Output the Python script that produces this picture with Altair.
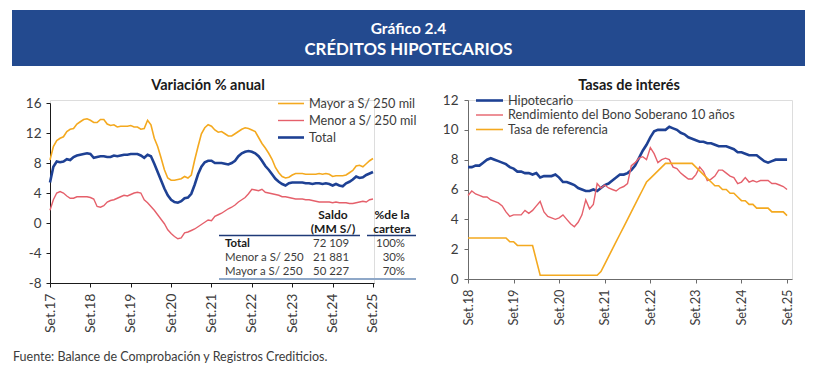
import json
import altair as alt
import pandas as pd

FONT = "Lato"
BLUE = "#1e4194"
ORANGE = "#f4a91f"
RED = "#e5606b"
BANNER = "#234a8f"
TEXT = "#3c3c3c"
DARK = "#1a1a1a"

# ---------------- texts ----------------
header_lines = ["Gráfico 2.4", "CRÉDITOS HIPOTECARIOS"]
left_title = "Variación % anual"
right_title = "Tasas de interés"
source_note = "Fuente: Balance de Comprobación y Registros Crediticios."

# ---------------- left panel: Variación % anual (monthly, Set.17 - Set.25) ----------------
left_x_labels = ["Set.17", "Set.18", "Set.19", "Set.20", "Set.21", "Set.22", "Set.23", "Set.24", "Set.25"]
left_y_ticks = [-8, -4, 0, 4, 8, 12, 16]
left_series = ["Mayor a S/ 250 mil", "Menor a S/ 250 mil", "Total"]

mayor = [8.4, 10.2, 11.0, 11.3, 11.5, 12.2, 12.5, 12.6, 13.2, 13.5,
         13.8, 13.9, 13.7, 13.4, 13.4, 13.8, 13.8, 13.2, 13.0, 13.1,
         12.8, 12.9, 12.9, 12.9, 13.0, 12.8, 12.8, 12.5, 12.6, 13.7,
         13.1, 11.3, 10.2, 8.7, 7.1, 6.0, 5.7, 5.7, 5.8, 5.9,
         6.2, 6.0, 6.4, 8.4, 10.2, 11.9, 12.7, 13.1, 12.9, 12.4,
         12.1, 12.2, 11.9, 11.6, 11.6, 11.9, 12.2, 12.5, 12.7, 12.6,
         12.4, 12.2, 11.4, 10.6, 10.0, 9.3, 8.5, 7.4, 6.7, 6.2,
         6.0, 6.1, 6.4, 6.6, 6.6, 6.6, 6.5, 6.5, 6.5, 6.5,
         6.6, 6.5, 6.6, 6.5, 6.2, 6.3, 6.3, 6.3, 6.4, 6.7,
         7.0, 7.6, 7.7, 7.5, 7.9, 8.3, 8.6]
menor = [1.7, 3.1, 4.0, 4.2, 4.0, 3.6, 3.3, 3.3, 3.5, 3.5,
         3.5, 3.5, 3.4, 3.2, 2.2, 2.1, 2.3, 2.8, 3.0, 3.1,
         3.3, 3.5, 3.7, 3.6, 3.8, 4.0, 4.1, 4.0, 3.1, 2.7,
         2.2, 1.7, 1.1, 0.5, -0.1, -0.9, -1.4, -1.8, -2.1, -2.0,
         -1.3, -1.2, -1.0, -0.8, -0.5, -0.2, 0.1, 0.4, 0.3, 0.9,
         1.1, 1.3, 1.6, 1.9, 2.1, 2.4, 2.8, 3.1, 3.4, 3.9,
         4.5, 4.4, 4.3, 4.5, 4.1, 4.0, 3.9, 3.8, 3.7, 3.5,
         3.5, 3.4, 3.3, 3.2, 3.2, 3.2, 3.1, 3.1, 3.0, 2.9,
         2.8, 2.8, 2.8, 2.8, 2.7, 2.8, 2.7, 2.7, 2.7, 2.6,
         2.6, 2.7, 2.8, 2.9, 2.8, 3.1, 3.2]
total = [5.4, 7.5, 8.2, 8.1, 8.2, 8.5, 8.4, 8.8, 9.0, 9.1,
         9.2, 9.3, 9.2, 8.7, 8.8, 8.9, 8.9, 8.8, 8.8, 9.0,
         8.9, 9.0, 9.1, 9.1, 9.2, 9.2, 9.2, 9.0, 8.7, 9.1,
         8.9, 7.9, 6.8, 5.7, 4.6, 3.7, 3.1, 2.8, 2.7, 2.9,
         3.3, 3.4, 3.9, 5.1, 6.5, 7.5, 8.1, 8.3, 8.3, 8.0,
         8.0, 8.0, 7.9, 7.8, 8.0, 8.3, 8.9, 9.3, 9.5, 9.6,
         9.5, 9.3, 8.9, 8.3, 7.6, 7.1, 6.5, 5.9, 5.5, 5.2,
         5.0, 5.3, 5.4, 5.4, 5.4, 5.4, 5.3, 5.3, 5.2, 5.3,
         5.3, 5.2, 5.3, 5.2, 5.0, 5.2, 5.0, 4.9, 5.3, 5.5,
         5.8, 6.2, 6.0, 6.1, 6.4, 6.6, 6.8]

# table inside left panel
table_head_1 = ["Saldo", "(MM S/)"]
table_head_2 = ["%de la", "cartera"]
table_rows = ["Total", "Menor a S/ 250", "Mayor a S/ 250"]
table_saldo = ["72 109", "21 881", "50 227"]
table_pct = ["100%", "30%", "70%"]

# ---------------- right panel: Tasas de interés (monthly, Set.18 - Set.25) ----------------
right_x_labels = ["Set.18", "Set.19", "Set.20", "Set.21", "Set.22", "Set.23", "Set.24", "Set.25"]
right_y_ticks = [0, 2, 4, 6, 8, 10, 12]
right_series = ["Hipotecario", "Rendimiento del Bono Soberano 10 años", "Tasa de referencia"]

hipotecario = [7.5, 7.5, 7.6, 7.6, 7.8, 8.0, 8.1, 8.0, 7.9, 7.8,
               7.7, 7.5, 7.4, 7.2, 7.2, 7.1, 7.1, 7.0, 7.1, 6.8,
               6.9, 6.9, 6.9, 7.0, 6.8, 6.5, 6.5, 6.4, 6.3, 6.1,
               6.0, 5.9, 5.9, 6.0, 5.9, 6.1, 6.3, 6.4, 6.6, 6.8,
               7.0, 7.0, 7.1, 7.3, 7.6, 8.1, 8.6, 9.0, 9.5, 9.9,
               10.0, 10.0, 10.0, 10.2, 10.1, 10.0, 9.8, 9.7, 9.5, 9.4,
               9.3, 9.2, 9.2, 9.1, 9.1, 9.0, 8.9, 8.9, 8.9, 8.8,
               8.7, 8.5, 8.5, 8.4, 8.3, 8.3, 8.3, 8.1, 7.9, 7.8,
               7.9, 8.0, 8.0, 8.0, 8.0]
bono = [5.6, 5.9, 5.7, 5.6, 5.5, 5.5, 5.3, 5.2, 5.1, 4.9,
        4.5, 4.2, 4.3, 4.3, 4.3, 4.6, 4.4, 4.6, 4.9, 5.2,
        4.5, 4.2, 4.1, 4.0, 4.1, 4.3, 4.0, 3.7, 3.5, 3.8,
        4.3, 5.3, 4.7, 5.0, 6.4, 6.1, 6.3, 6.1, 6.0, 5.9,
        6.1, 6.2, 6.4, 7.6, 7.8, 8.1, 8.2, 8.0, 8.8, 8.4,
        7.8, 8.0, 8.1, 8.0, 7.5, 7.4, 7.1, 6.9, 6.7, 6.7,
        7.0, 7.5, 7.2, 6.6, 6.7, 6.9, 7.3, 7.3, 7.1, 6.9,
        6.8, 6.4, 6.5, 6.8, 6.5, 6.6, 6.5, 6.6, 6.6, 6.6,
        6.4, 6.4, 6.3, 6.2, 6.0]
referencia = [2.75, 2.75, 2.75, 2.75, 2.75, 2.75, 2.75, 2.75, 2.75, 2.75,
              2.75, 2.5, 2.5, 2.25, 2.25, 2.25, 2.25, 2.25, 1.25, 0.25,
              0.25, 0.25, 0.25, 0.25, 0.25, 0.25, 0.25, 0.25, 0.25, 0.25,
              0.25, 0.25, 0.25, 0.25, 0.25, 0.5, 1.0, 1.5, 2.0, 2.5,
              3.0, 3.5, 4.0, 4.5, 5.0, 5.5, 6.0, 6.5, 6.75, 7.0,
              7.25, 7.5, 7.75, 7.75, 7.75, 7.75, 7.75, 7.75, 7.75, 7.75,
              7.5, 7.25, 7.0, 6.75, 6.5, 6.25, 6.25, 6.0, 6.0, 5.75,
              5.75, 5.5, 5.25, 5.25, 5.0, 5.0, 4.75, 4.75, 4.75, 4.75,
              4.5, 4.5, 4.5, 4.5, 4.25]

ONE = pd.DataFrame({"k": [0]})


def series_df(vals):
    return pd.DataFrame({"m": list(range(len(vals))), "v": vals})


def txt(s, x, y, size=12.0, weight="normal", align="left", color=TEXT, baseline="middle"):
    return alt.Chart(pd.DataFrame({"t": [s]})).mark_text(
        font=FONT, fontSize=size, fontWeight=weight, align=align,
        baseline=baseline, color=color
    ).encode(text="t:N", x=alt.value(x), y=alt.value(y))


def hline(x1, x2, y, color, width):
    return alt.Chart(ONE).mark_rule(color=color, strokeWidth=width).encode(
        x=alt.value(x1), x2=alt.value(x2), y=alt.value(y))


def x_axis(labels, color, size):
    return alt.Axis(
        values=[12 * i for i in range(len(labels))],
        labelExpr=json.dumps(labels) + "[round(datum.value/12)]",
        labelAngle=-90, labelFont=FONT, labelFontSize=size, labelColor=TEXT,
        labelPadding=6, tickSize=4, tickColor=color, domainColor=color,
        title=None, grid=False)


def y_axis(values, color, pad):
    return alt.Axis(
        values=values, labelFont=FONT, labelFontSize=13.5, labelColor=TEXT,
        labelExpr="datum.value < 0 ? '-' + abs(datum.value) : '' + datum.value",
        labelPadding=pad, tickSize=4, tickColor=color, domainColor=color,
        title=None, grid=False)


# ---------------- left chart ----------------
LAX = "#1a1a1a"
lx = alt.X("m:Q", scale=alt.Scale(domain=[0, 96.3], nice=False, zero=False),
           axis=x_axis(left_x_labels, LAX, 14))
ly = alt.Y("v:Q", scale=alt.Scale(domain=[-8, 16], range=[183, 3], nice=False, zero=False),
           axis=y_axis(left_y_ticks, LAX, 5))


def lline(vals, color, w):
    return alt.Chart(series_df(vals)).mark_line(color=color, strokeWidth=w).encode(x=lx, y=ly)


left_layers = [
    lline(mayor, ORANGE, 1.6),
    lline(menor, RED, 1.4),
    lline(total, BLUE, 2.6),
]

# banner and footer (drawn relative to the left panel's plot origin)
left_layers.append(
    alt.Chart(ONE).mark_rect(color=BANNER).encode(
        x=alt.value(-38), x2=alt.value(755), y=alt.value(-90), y2=alt.value(-34)))
left_layers.append(txt(header_lines[0], 358.5, -71, 15.5, "bold", "center", "#ffffff"))
left_layers.append(txt(header_lines[1], 358.5, -50, 16.8, "bold", "center", "#ffffff"))
left_layers.append(txt(left_title, 158, -14, 14.5, "bold", "center", DARK))
left_layers.append(txt(source_note, -37, 261, 12.5, "normal", "left", TEXT, "alphabetic"))

# legend
for i, (name, col, w) in enumerate(zip(left_series, [ORANGE, RED, BLUE], [1.6, 1.4, 2.6])):
    yy = 3.5 + 17 * i
    left_layers.append(hline(228, 254, yy, col, w))
    left_layers.append(txt(name, 259, yy, 12.7))

# table
left_layers.append(txt(table_head_1[0], 283, 115, 12, "bold", "center", DARK))
left_layers.append(txt(table_head_1[1], 283, 129, 12, "bold", "center", DARK))
left_layers.append(txt(table_head_2[0], 342, 115, 12, "bold", "center", DARK))
left_layers.append(txt(table_head_2[1], 342, 129, 12, "bold", "center", DARK))
left_layers.append(hline(169, 310, 135.5, "#1f3a78", 1.5))
left_layers.append(hline(317, 366, 135.5, "#1f3a78", 1.5))
for i in range(len(table_rows)):
    yy = 143.7 + 14.2 * i
    left_layers.append(txt(table_rows[i], 175, yy, 11.4, "bold" if i == 0 else "normal", "left",
                           DARK if i == 0 else TEXT))
    left_layers.append(txt(table_saldo[i], 299, yy, 11.4, "normal", "right"))
    left_layers.append(txt(table_pct[i], 355, yy, 11.4, "normal", "right"))
left_layers.append(hline(169, 366, 179, "#8fa8c8", 2))

left = alt.layer(*left_layers).properties(width=324, height=183)

# ---------------- right chart ----------------
RAX = "#6b6b6b"
rx = alt.X("m:Q", scale=alt.Scale(domain=[0, 85.3], nice=False, zero=False),
           axis=x_axis(right_x_labels, RAX, 12.8))
ry = alt.Y("v:Q", scale=alt.Scale(domain=[0, 12], range=[179, 0], nice=False, zero=False),
           axis=y_axis(right_y_ticks, RAX, 6))


def rline(vals, color, w):
    return alt.Chart(series_df(vals)).mark_line(color=color, strokeWidth=w).encode(x=rx, y=ry)


right_layers = [
    rline(hipotecario, BLUE, 2.6),
    rline(bono, RED, 1.4),
    rline(referencia, ORANGE, 1.6),
    txt(right_title, 161, -14, 14.5, "bold", "center", DARK),
]
for i, (name, col, w) in enumerate(zip(right_series, [BLUE, RED, ORANGE], [2.6, 1.4, 1.6])):
    yy = 0.5 + 14.5 * i
    right_layers.append(hline(8, 35, yy, col, w))
    right_layers.append(txt(name, 40, yy, 12.7))

right = alt.layer(*right_layers).properties(width=324, height=179)

chart = alt.hconcat(left, right, spacing=94, bounds="flush").properties(
    padding={"left": 3, "top": 1, "right": 0, "bottom": 0}
).configure_view(stroke=None).configure(background="#ffffff")

chart.save("out.html", embed_options={"renderer": "svg", "actions": False})
